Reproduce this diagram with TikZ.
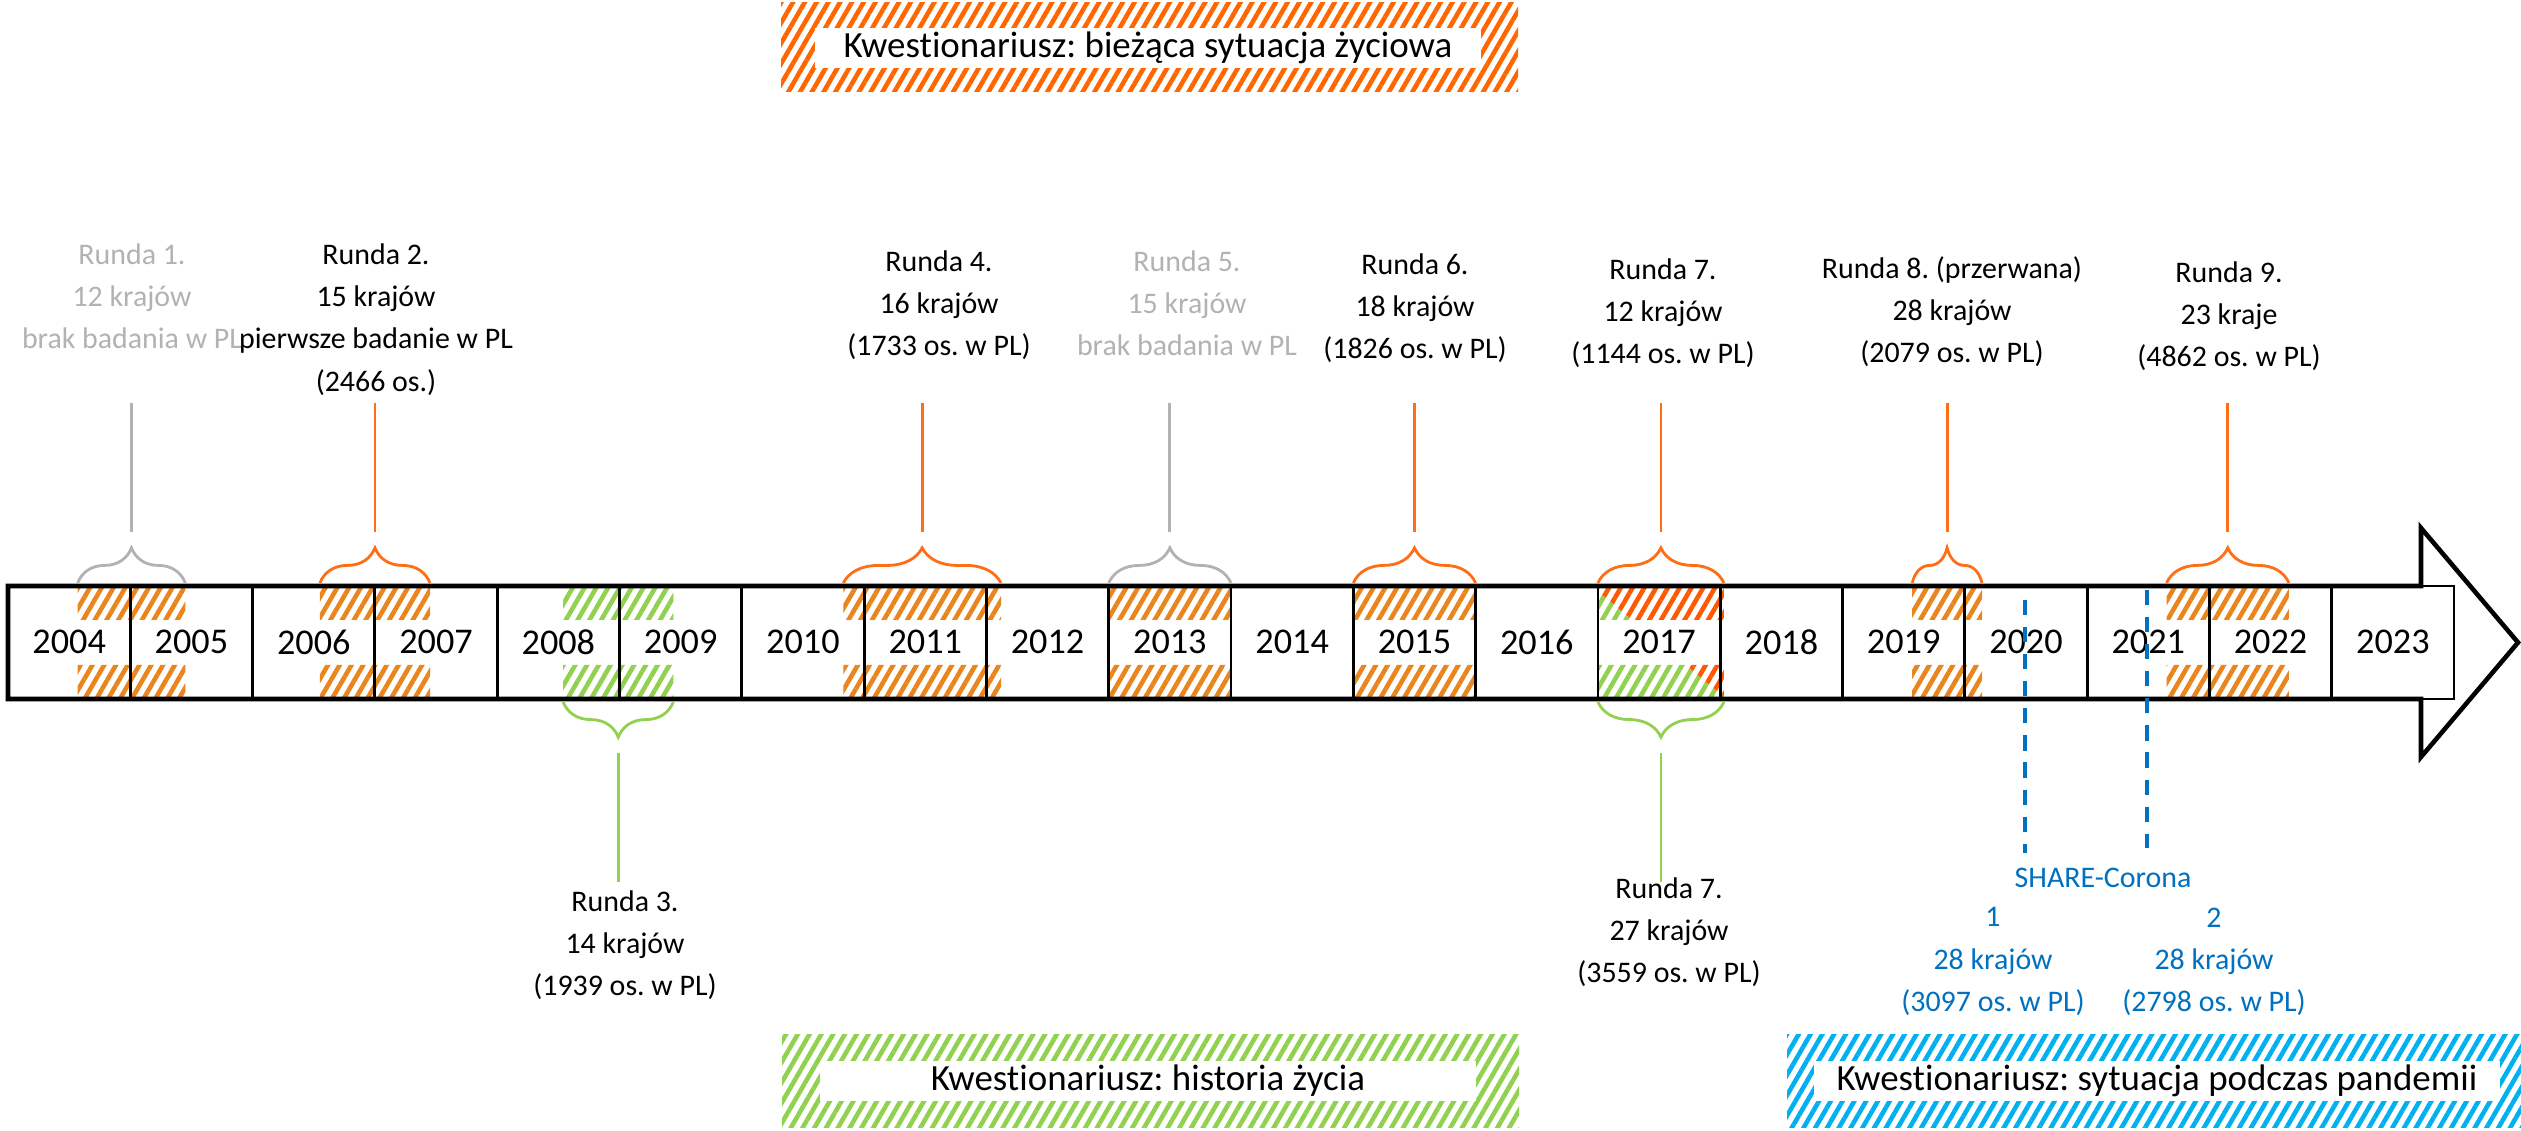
\documentclass[tikz,border=0pt]{standalone}
\usepackage{fontspec}
\setmainfont{Carlito}[Ligatures=NoCommon]
\usetikzlibrary{patterns.meta}
\usetikzlibrary{decorations.pathreplacing}

\definecolor{hatchor}{RGB}{234,132,28}
\definecolor{braceor}{RGB}{255,110,20}
\definecolor{legor}{RGB}{255,102,0}
\definecolor{redor}{RGB}{255,88,0}
\definecolor{lgreen}{RGB}{146,208,80}
\definecolor{lblue}{RGB}{0,176,240}
\definecolor{dblue}{RGB}{0,112,192}
\definecolor{lgray}{RGB}{178,178,178}

\newcommand{\yearfont}{\fontsize{10.3}{12}\selectfont}
\newcommand{\lblfont}{\fontsize{8.5}{12}\selectfont}
\newcommand{\legfont}{\fontsize{10.5}{12}\selectfont}
\frenchspacing

\begin{document}
\begin{tikzpicture}[x=0.01cm,y=-0.01cm,
    band/.style={pattern={Lines[angle=60,distance=2.9pt,line width=1.3pt]}},
    cell/.style={draw=black,line width=0.8pt},
    year/.style={font=\yearfont,inner sep=0pt},
    lbl/.style={align=center,anchor=north,inner sep=0pt,font=\lblfont},
    legbox/.style={fill=white,inner sep=0pt,minimum height=0.4cm,font=\legfont},
    brc/.style={decorate,decoration={brace,amplitude=10pt},line width=0.8pt},
    stem/.style={line width=0.8pt}]

    \useasboundingbox (0,0) rectangle (2521,1131);

    % hatched years
    \foreach \a/\b in {77.7/185.3,319.9/430,843.3/1001,1108.7/1231,1353.3/1475.6,1912.2/1982,2166.6/2288.9}
        \fill[band,pattern color=hatchor] (\a,586) rectangle (\b,620) (\a,665) rectangle (\b,699);
    \fill[band,pattern color=lgreen] (563.2,586) rectangle (673.3,620) (563.2,665) rectangle (673.3,699);
    \begin{scope}
        \clip (1597.9,586) rectangle (1723.9,620) (1597.9,665) rectangle (1723.9,699);
        \fill[band,pattern color=lgreen] (1580,586) -- (1591.8,586) -- (1726.3,699) -- (1580,699) -- cycle;
        \fill[band,pattern color=redor] (1591.8,586) -- (1740,586) -- (1740,699) -- (1726.3,699) -- cycle;
    \end{scope}

    % arrow and cells
    \draw[line width=1.3pt] (8,586) -- (2421,586) -- (2421,528) -- (2518,642.5) -- (2421,757) -- (2421,699) -- (8,699) -- cycle;
    \draw[cell] (8,586) rectangle (2454,699);
    \foreach \i in {1,...,19}
        \draw[cell] ({8+122.3*\i},586) -- ({8+122.3*\i},699);
    \foreach \i [evaluate=\i as \yr using int(2004+\i)] in {0,...,19}
        \node[year] (y\yr) at ({69.15+122.3*\i},642) {\yr};

    % braces above
    \foreach \n/\a/\b/\col in {1/77.7/185.3/lgray,2/319.9/430/braceor,4/843.3/1001/braceor,5/1108.7/1231/lgray,
            6/1353.3/1475.6/braceor,7/1597.9/1723.9/braceor,8/1912.2/1982/braceor,9/2166.6/2288.9/braceor} {
        \draw[brc,color=\col] (\a,583) -- (\b,583);
        \coordinate (t\n) at ({(\a+\b)/2},532);
        \coordinate (h\n) at ({(\a+\b)/2},403);
        \draw[stem,color=\col] (t\n) -- (h\n);
    }

    % braces below
    \draw[brc,lgreen] (673.3,702) -- (563.2,702);
    \draw[brc,lgreen] (1723.9,702) -- (1597.9,702);
    \coordinate (t3) at (618.3,753);
    \coordinate (h3) at (618.3,882);
    \coordinate (t7b) at (1660.9,753);
    \coordinate (h7b) at (1660.9,882);
    \draw[stem,lgreen] (t3) -- (h3);
    \draw[stem,lgreen] (t7b) -- (h7b);

    \node[lbl,text=lgray] (r1) at (132,243) {Runda 1.\\12 krajów\\brak badania w PL};
    \node[lbl] (r2) at (376,243) {Runda 2.\\15 krajów\\pierwsze badanie w PL\\(2466 os.)};
    \node[lbl] (r4) at (939,250) {Runda 4.\\16 krajów\\(1733 os. w PL)};
    \node[lbl,text=lgray] (r5) at (1187,250) {Runda 5.\\15 krajów\\brak badania w PL};
    \node[lbl] (r6) at (1415,253) {Runda 6.\\18 krajów\\(1826 os. w PL)};
    \node[lbl] (r7) at (1663,258) {Runda 7.\\12 krajów\\(1144 os. w PL)};
    \node[lbl] (r8) at (1952,256) {Runda 8. (przerwana)\\28 krajów\\(2079 os. w PL)};
    \node[lbl] (r9) at (2229,261) {Runda 9.\\23 kraje\\(4862 os. w PL)};
    \node[lbl] (r3) at (625,890) {Runda 3.\\14 krajów\\(1939 os. w PL)};
    \node[lbl] (r7b) at (1669,877) {Runda 7.\\27 krajów\\(3559 os. w PL)};

    % SHARE-Corona
    \coordinate (d1a) at (2025,600);
    \coordinate (d1b) at (2025,853);
    \coordinate (d2a) at (2147,590);
    \coordinate (d2b) at (2147,848);
    \draw[dblue,line width=0.9pt,dash pattern=on 4.3pt off 3.4pt] (d1a) -- (d1b);
    \draw[dblue,line width=0.9pt,dash pattern=on 4.3pt off 3.4pt] (d2a) -- (d2b);
    \node[lbl,text=dblue] (sc) at (2103,867) {SHARE-Corona};
    \node[lbl,text=dblue] (sc1) at (1993,907) {1\\28 krajów\\(3097 os. w PL)};
    \node[lbl,text=dblue] (sc2) at (2214,907) {2\\28 krajów\\(2798 os. w PL)};

    % legend
    \fill[band,pattern color=legor] (781,3) rectangle (1518,92);
    \node[legbox,minimum width=6.65cm] (kw1) at (1148,48) {Kwestionariusz: bieżąca sytuacja życiowa};
    \fill[band,pattern color=lgreen] (782,1034) rectangle (1519,1127);
    \node[legbox,minimum width=6.56cm] (kw2) at (1148,1081) {Kwestionariusz: historia życia};
    \fill[band,pattern color=lblue] (1787,1034) rectangle (2521,1127);
    \node[legbox,minimum width=6.85cm] (kw3) at (2157,1081) {Kwestionariusz: sytuacja podczas pandemii};
\end{tikzpicture}
\end{document}
